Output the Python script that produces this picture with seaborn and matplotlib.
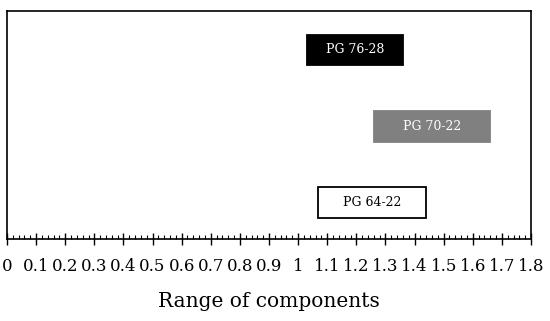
import numpy as np
import pandas as pd
import matplotlib
matplotlib.use("Agg")
import matplotlib.pyplot as plt
from matplotlib.ticker import MultipleLocator, FixedLocator
import seaborn as sns

categories = ["PG 76-28", "PG 70-22", "PG 64-22"]
range_start = [1.03, 1.26, 1.07]
range_end = [1.36, 1.66, 1.44]
bar_colors = ["#000000", "#808080", "#ffffff"]
edge_colors = ["#000000", "#808080", "#000000"]
text_colors = ["white", "white", "black"]
tick_values = [round(0.1 * i, 1) for i in range(19)]
tick_labels = ["0", "0.1", "0.2", "0.3", "0.4", "0.5", "0.6", "0.7", "0.8", "0.9",
               "1", "1.1", "1.2", "1.3", "1.4", "1.5", "1.6", "1.7", "1.8"]

sns.set_theme(style="white")
plt.rcParams["font.family"] = ["DejaVu Serif"]
plt.rcParams["text.color"] = "black"
plt.rcParams["axes.labelcolor"] = "black"
plt.rcParams["xtick.color"] = "black"

df = pd.DataFrame({"grade": categories,
                   "start": range_start,
                   "span": np.array(range_end) - np.array(range_start)})

W, H = 550, 321
fig = plt.figure(figsize=(W / 100, H / 100), dpi=100)
ax = fig.add_axes([7 / W, (H - 238.5) / H, (531 - 7) / W, (238.5 - 11) / H])

sns.barplot(data=df, x="span", y="grade", order=categories, orient="y",
            width=0.4, color="black", saturation=1,
            left=df["start"].values,
            facecolor=bar_colors, edgecolor=edge_colors, linewidth=1.3, ax=ax)

for i, cat in enumerate(categories):
    cx = (range_start[i] + range_end[i]) / 2
    ax.text(cx, i, cat, ha="center", va="center", color=text_colors[i],
            fontsize=9, family="DejaVu Serif")

ax.set_xlim(0, 1.8)
ax.set_ylim(2.47, -0.51)
ax.set_ylabel("")
ax.set_yticks([])
ax.xaxis.set_major_locator(FixedLocator(tick_values))
ax.set_xticklabels(tick_labels, fontsize=12, color="black")
ax.xaxis.set_minor_locator(MultipleLocator(0.02))
ax.tick_params(axis="x", which="major", direction="inout", length=8, width=1,
               color="black", pad=10, bottom=True)
ax.tick_params(axis="x", which="minor", direction="in", length=3, width=0.8,
               color="black", bottom=True)
ax.set_xlabel("Range of components", fontsize=14.5, labelpad=12, color="black")

for s in ax.spines.values():
    s.set_visible(True)
    s.set_color("black")
    s.set_linewidth(1.2)

fig.savefig("out.png", dpi=100)
